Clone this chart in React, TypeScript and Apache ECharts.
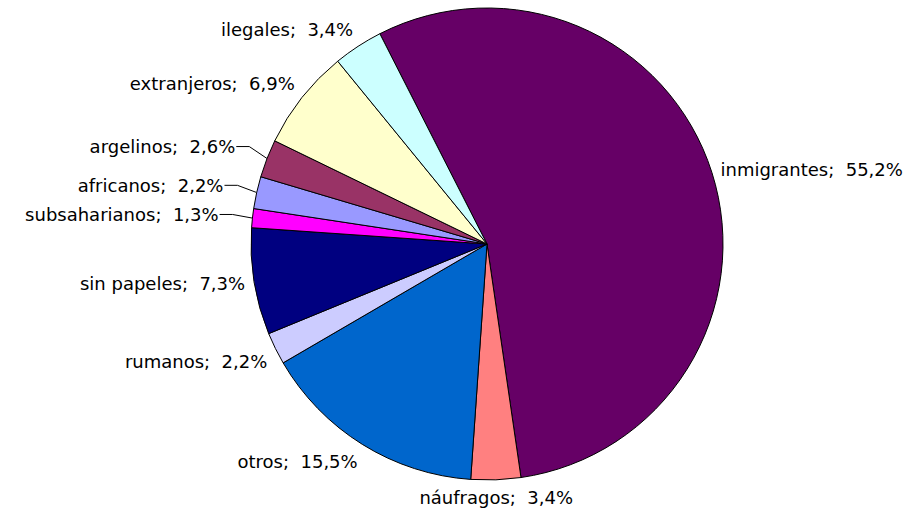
import React, { useEffect, useRef } from "react";
import * as echarts from "echarts";

const categories = [
  "inmigrantes",
  "náufragos",
  "otros",
  "rumanos",
  "sin papeles",
  "subsaharianos",
  "africanos",
  "argelinos",
  "extranjeros",
  "ilegales",
];
const values = [55.2, 3.4, 15.5, 2.2, 7.3, 1.3, 2.2, 2.6, 6.9, 3.4];
const colors = [
  "#660066",
  "#FF8080",
  "#0066CC",
  "#CCCCFF",
  "#000080",
  "#FF00FF",
  "#9999FF",
  "#993366",
  "#FFFFCC",
  "#CCFFFF",
];
const withLine = ["subsaharianos", "africanos", "argelinos"];

const CENTER = [487, 244];
const RADIUS = 236;
const START_ANGLE = 117;

export default function App() {
  const ref = useRef<HTMLDivElement>(null);
  useEffect(() => {
    if (!ref.current) return;
    const chart = echarts.init(ref.current, undefined, { renderer: "svg" });
    const total = values.reduce((a, b) => a + b, 0);
    const data = categories.map((name, i) => {
      const lined = withLine.includes(name);
      return {
        name,
        value: values[i],
        itemStyle: { color: colors[i] },
        labelLine: { show: lined, length: 20, length2: 12 },
      };
    });
    const labelLayout = (p: any) => {
      const i = p.dataIndex;
      const before = values.slice(0, i).reduce((a, b) => a + b, 0);
      const mid = ((before + values[i] / 2) / total) * 360;
      const theta = ((90 - START_ANGLE + mid) * Math.PI) / 180;
      const ux = Math.sin(theta);
      const uy = -Math.cos(theta);
      if (withLine.includes(categories[i])) {
        const g = 33;
        const ax = CENTER[0] + (RADIUS + g) * ux;
        const ay = CENTER[1] + (RADIUS + g) * uy;
        const ex = CENTER[0] + RADIUS * ux;
        const ey = CENTER[1] + RADIUS * uy;
        return {
          x: ax - 1,
          y: ay,
          align: "right",
          verticalAlign: "middle",
          labelLinePoints: [
            [ex, ey],
            [ax + 13, ay],
            [ax, ay],
          ],
        };
      }
      const g = 9;
      const px = CENTER[0] + (RADIUS + g) * ux;
      const py = CENTER[1] + (RADIUS + g) * uy;
      const align = ux > 0.35 ? "left" : ux < -0.35 ? "right" : "center";
      const verticalAlign = uy < -0.35 ? "bottom" : uy > 0.35 ? "top" : "middle";
      return { x: px, y: py, align, verticalAlign };
    };
    chart.setOption({
      animation: false,
      backgroundColor: "#ffffff",
      series: [
        {
          type: "pie",
          center: CENTER,
          radius: RADIUS,
          startAngle: START_ANGLE,
          clockwise: true,
          avoidLabelOverlap: false,
          data,
          itemStyle: { borderColor: "#000", borderWidth: 1 },
          label: {
            show: true,
            position: "outside",
            color: "#000",
            fontFamily: "DejaVu Sans, Verdana, sans-serif",
            fontSize: 18,
            formatter: (p: any) =>
              `${p.name};  ${p.value.toFixed(1).replace(".", ",")}%`,
          },
          labelLine: {
            lineStyle: { color: "#000", width: 1 },
            smooth: false,
          },
          labelLayout,
          emphasis: { disabled: true },
        },
      ],
    });
    return () => chart.dispose();
  }, []);
  return (
    <div
      ref={ref}
      style={{ position: "absolute", left: 0, top: 0, width: 921, height: 519 }}
    />
  );
}
